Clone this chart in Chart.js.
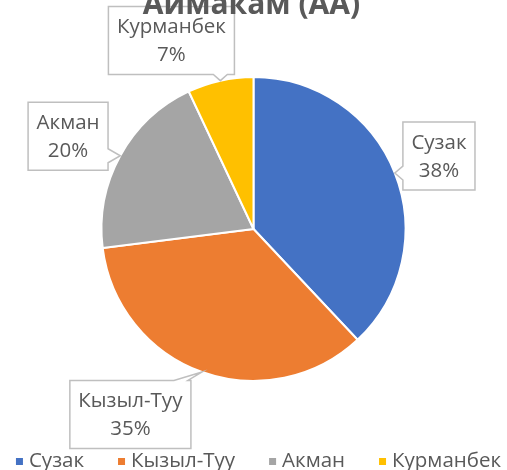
<!DOCTYPE html>
<html>
<head>
<meta charset="utf-8">
<script src="https://cdn.jsdelivr.net/npm/chart.js@4.4.0/dist/chart.umd.min.js"></script>
<style>
    html, body { margin: 0; padding: 0; background: #fff; }
</style>
</head>
<body>
<canvas id="pie" width="507" height="470"></canvas>
<script>
// Datos del gráfico
var titulo = 'Аймакам (АА)';
var regiones = ['Сузак', 'Кызыл-Туу', 'Акман', 'Курманбек'];
var valores = [38, 35, 20, 7];
var colores = ['#4472C4', '#ED7D31', '#A5A5A5', '#FFC000'];

// Posición de cada etiqueta respecto al centro (en radios)
var posEtiquetas = [[1.22, -0.48], [-0.81, 1.22], [-1.22, -0.61], [-0.54, -1.24]];

var fuente = '"Open Sans", "Noto Sans", sans-serif';
var gris = '#595959';

function clamp(v, a, b) {
    return Math.max(a, Math.min(b, v));
}

// Caja con punta hacia la porción
function dibujarCaja(ctx, l, t, r, b, tip) {
    var side;
    if (tip.y < t) side = 'top';
    else if (tip.y > b) side = 'bottom';
    else if (tip.x < l) side = 'left';
    else side = 'right';
    var n = 7, c;
    ctx.beginPath();
    ctx.moveTo(l, t);
    if (side === 'top') {
        c = clamp(tip.x, l + n + 3, r - n - 3);
        ctx.lineTo(c - n, t); ctx.lineTo(tip.x, tip.y); ctx.lineTo(c + n, t);
    }
    ctx.lineTo(r, t);
    if (side === 'right') {
        c = clamp(tip.y, t + n + 3, b - n - 3);
        ctx.lineTo(r, c - n); ctx.lineTo(tip.x, tip.y); ctx.lineTo(r, c + n);
    }
    ctx.lineTo(r, b);
    if (side === 'bottom') {
        c = clamp(tip.x, l + n + 3, r - n - 3);
        ctx.lineTo(c + n, b); ctx.lineTo(tip.x, tip.y); ctx.lineTo(c - n, b);
    }
    ctx.lineTo(l, b);
    if (side === 'left') {
        c = clamp(tip.y, t + n + 3, b - n - 3);
        ctx.lineTo(l, c + n); ctx.lineTo(tip.x, tip.y); ctx.lineTo(l, c - n);
    }
    ctx.closePath();
    ctx.fillStyle = '#fff';
    ctx.fill();
    ctx.strokeStyle = '#BFBFBF';
    ctx.lineWidth = 1.5;
    ctx.stroke();
}

var etiquetasPlugin = {
    id: 'etiquetas',
    afterDatasetsDraw: function(chart) {
        var ctx = chart.ctx;
        var meta = chart.getDatasetMeta(0);
        var data = chart.data.datasets[0].data;
        var total = data.reduce(function(a, b) { return a + b; }, 0);
        ctx.save();
        ctx.font = '20.5px ' + fuente;
        ctx.textAlign = 'center';
        ctx.textBaseline = 'middle';
        meta.data.forEach(function(arc, i) {
            var p = arc.getProps(['x', 'y', 'startAngle', 'endAngle', 'outerRadius'], true);
            var mid = (p.startAngle + p.endAngle) / 2;
            var R = p.outerRadius;
            var tip = { x: p.x + Math.cos(mid) * R, y: p.y + Math.sin(mid) * R };
            var cx = p.x + posEtiquetas[i][0] * R;
            var cy = p.y + posEtiquetas[i][1] * R;
            var linea1 = chart.data.labels[i];
            var linea2 = Math.round(data[i] / total * 100) + '%';
            var w = Math.max(ctx.measureText(linea1).width, ctx.measureText(linea2).width) + 17;
            var h = 68;
            dibujarCaja(ctx, cx - w / 2, cy - h / 2, cx + w / 2, cy + h / 2, tip);
            ctx.fillStyle = gris;
            ctx.fillText(linea1, cx, cy - 13);
            ctx.fillText(linea2, cx, cy + 15);
        });
        ctx.restore();
    },
    afterDraw: function(chart) {
        var ctx = chart.ctx;
        ctx.save();
        // Título (cortado arriba como en el original)
        ctx.font = 'bold 30px ' + fuente;
        ctx.fillStyle = gris;
        ctx.textAlign = 'center';
        ctx.textBaseline = 'alphabetic';
        ctx.fillText(titulo, chart.width / 2 - 2, 14);

        // Leyenda
        ctx.font = '20.5px ' + fuente;
        ctx.textBaseline = 'middle';
        ctx.textAlign = 'left';
        var labels = chart.data.labels;
        var cols = chart.data.datasets[0].backgroundColor;
        var anchos = labels.map(function(l) { return ctx.measureText(l).width; });
        var total = anchos.reduce(function(a, b) { return a + 13 + b; }, 0) + 34 * (labels.length - 1);
        var x = (chart.width - total) / 2 + 5;
        var y = 461;
        labels.forEach(function(l, i) {
            ctx.fillStyle = cols[i];
            ctx.fillRect(x, y - 3, 7, 7);
            ctx.fillStyle = gris;
            ctx.fillText(l, x + 13, y);
            x += 13 + anchos[i] + 34;
        });
        ctx.restore();
    }
};

var ctx = document.getElementById('pie').getContext('2d');
new Chart(ctx, {
    type: 'pie',
    data: {
        labels: regiones,
        datasets: [{
            data: valores,
            backgroundColor: colores,
            borderColor: '#fff',
            borderWidth: 2
        }]
    },
    options: {
        responsive: false,
        animation: false,
        radius: 152,
        layout: { padding: { bottom: 12 } },
        plugins: {
            legend: { display: false },
            tooltip: { enabled: false },
            title: { display: false }
        }
    },
    plugins: [etiquetasPlugin]
});
</script>
</body>
</html>
